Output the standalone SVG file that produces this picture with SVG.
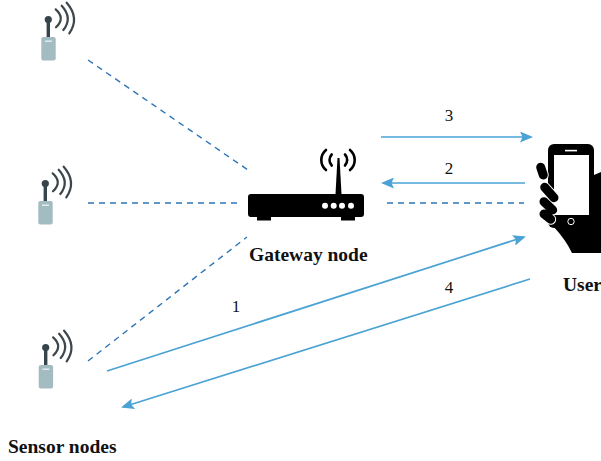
<svg xmlns="http://www.w3.org/2000/svg" width="601" height="461" viewBox="0 0 601 461">
<style>
.dash{fill:none;stroke:#2e75b6;stroke-width:1.4;stroke-dasharray:6 5}
.flow{fill:none;stroke:#4aa3d4;stroke-width:1.7;marker-end:url(#arrow)}
.lbl{font-family:"Liberation Serif","Times New Roman",serif;font-size:17px;fill:#111}
.name{font-family:"Liberation Serif","Times New Roman",serif;font-size:19.500px;font-weight:bold;fill:#111}
.wave{fill:none;stroke:#3b474d;stroke-width:2.2;stroke-linecap:round}
.rwave{fill:none;stroke:#000;stroke-width:2.600;stroke-linecap:round}
.finger{fill:none;stroke:#000;stroke-width:9;stroke-linecap:round}
.gap{fill:none;stroke:#fff;stroke-width:11;stroke-linecap:round}
</style>
<defs>
<marker id="arrow" viewBox="0 0 13 11" refX="11" refY="5.500" markerWidth="13" markerHeight="11" markerUnits="userSpaceOnUse" orient="auto"><path d="M0 0L13 5.500L0 11L2.500 5.500Z" fill="#4aa3d4"/></marker>
<symbol id="sensor" overflow="visible">
<rect x="41.300" y="37" width="14.400" height="23.600" rx="2" fill="#a2bcc2"/>
<rect x="45" y="40.500" width="7" height="1.400" fill="#e8f0f0"/>
<path d="M48.300 20V37" stroke="#36444c" stroke-width="3.400" fill="none"/>
<circle cx="48.300" cy="19.500" r="3.600" fill="#36444c"/>
<path class="wave" d="M55.700 9.300Q65.700 18 56 27.300"/>
<path class="wave" d="M61.700 5.700Q73 18 63.300 30"/>
<path class="wave" d="M66.700 2.700Q80 18 69.300 33.300"/>
</symbol>
</defs>
<g id="connectors">
<path class="dash" d="M88 60L248 170"/>
<path class="dash" d="M88 203H238"/>
<path class="dash" d="M88 361L247 237"/>
<path class="dash" d="M387 203H524"/>
<path class="flow" d="M381 137H531"/>
<path class="flow" d="M525 183H383"/>
<path class="flow" d="M107 371L524 237"/>
<path class="flow" d="M530 279L123 407"/>
</g>
<g id="sensor-1"><use href="#sensor"/></g>
<g id="sensor-2"><use href="#sensor" x="-3" y="164"/></g>
<g id="sensor-3"><use href="#sensor" x="-2.600" y="328"/></g>
<g id="gateway">
<path d="M251 194H361Q364 194 364 197V214Q364 217 361 217H355V220.500H341V217H271V220.500H257V217H251Q248 217 248 214V197Q248 194 251 194Z" fill="#000"/>
<path d="M337.500 158H339.500L341.500 194H335.500Z" fill="#000"/>
<g fill="#fff"><circle cx="325" cy="205.700" r="3"/><circle cx="333.700" cy="205.700" r="3"/><circle cx="342" cy="205.700" r="3"/><circle cx="351" cy="205.700" r="3"/></g>
<path class="rwave" d="M331.700 154.500A8 8 0 0 0 331.700 165.500M345 154.500A8 8 0 0 1 345 165.500"/>
<path class="rwave" d="M326 150A13 13 0 0 0 326 170M350 150A13 13 0 0 1 350 170"/>
</g>
<g id="user">
<path d="M594 175L601 172V253H572Q566 240 553 226Z" fill="#000"/>
<rect x="548" y="144" width="46" height="84" rx="6" fill="#000"/>
<rect x="554" y="155" width="35" height="60" fill="#fff"/>
<rect x="565" y="149.800" width="12" height="1.600" fill="#fff"/>
<circle cx="571" cy="221.500" r="3.200" fill="none" stroke="#fff" stroke-width="1"/>
<path class="gap" d="M540.700 167.300L543.300 175M544.700 187.300L554 197.700M544 201.700L552.700 210M544 214L550.700 219.300"/>
<path class="finger" d="M540.700 167.300L543.300 175M544.700 187.300L554 197.700M544 201.700L552.700 210M544 214L550.700 219.300"/>
</g>
<text class="lbl" x="449" y="121" text-anchor="middle">3</text>
<text class="lbl" x="449" y="174" text-anchor="middle">2</text>
<text class="lbl" x="236" y="312" text-anchor="middle">1</text>
<text class="lbl" x="449" y="293" text-anchor="middle">4</text>
<text class="name" x="249" y="261">Gateway node</text>
<text class="name" x="563" y="291">User</text>
<text class="name" x="8" y="453">Sensor nodes</text>
</svg>
